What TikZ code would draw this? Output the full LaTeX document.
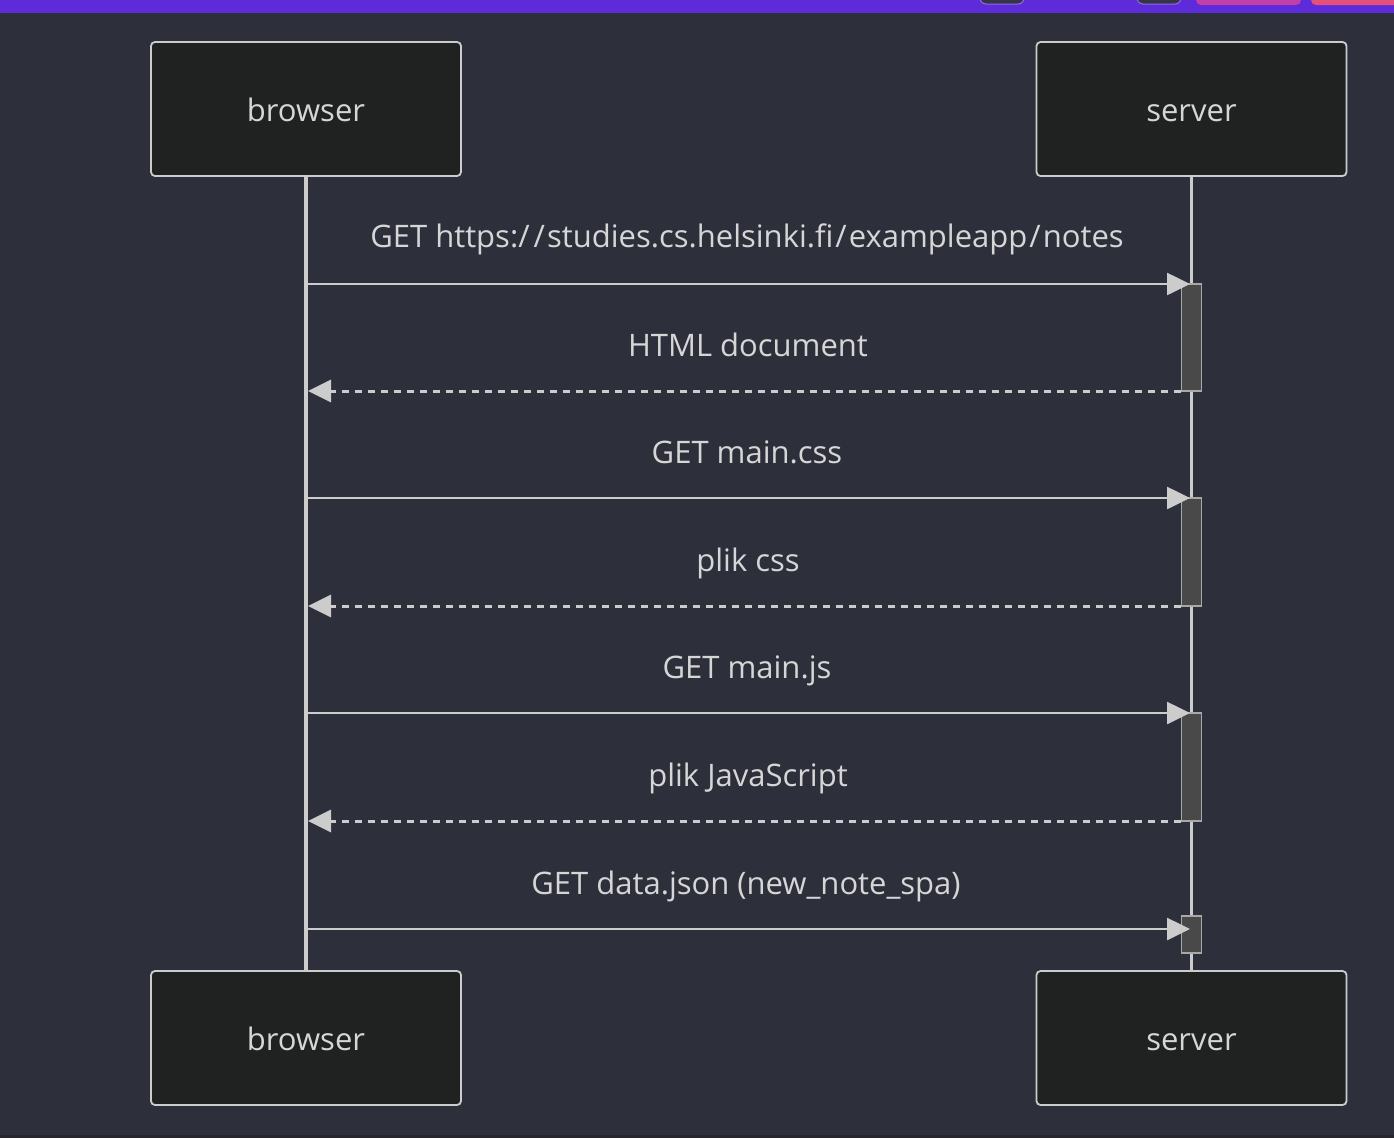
\documentclass[tikz,border=0pt]{standalone}
\usepackage{fontspec}
\setmainfont[Ligatures={NoCommon}]{Open Sans}
\usetikzlibrary{arrows.meta}
\definecolor{bgc}{HTML}{2D303B}
\definecolor{barc}{HTML}{5E2BDB}
\definecolor{boxfill}{HTML}{202221}
\definecolor{linec}{HTML}{CCCCCC}
\definecolor{textc}{HTML}{D6D6D6}
\definecolor{actfill}{HTML}{484948}
\definecolor{actline}{HTML}{A8A8A8}
\definecolor{tabfill}{HTML}{36344A}
\definecolor{tabline}{HTML}{8C6EDC}
\definecolor{pinkc}{HTML}{C13FA8}
\definecolor{redc}{HTML}{E5507A}
\definecolor{bottomc}{HTML}{26282F}
\tikzset{
  actor/.style={draw=linec, fill=boxfill, line width=1.8pt, rounded corners=4pt,
    minimum width=310pt, minimum height=134pt, inner sep=0pt},
  actortext/.style={text=textc, font=\fontsize{31}{36}\selectfont, anchor=base, inner sep=0pt},
  lifeline/.style={draw=linec, line width=3.2pt},
  act/.style={draw=actline, fill=actfill, line width=1.8pt, minimum width=20pt, inner sep=0pt},
  req/.style={draw=linec, line width=2.6pt, -{Triangle[length=23pt,width=22pt]}},
  resp/.style={draw=linec, line width=3pt, dash pattern=on 7pt off 6pt, -{Triangle[length=23pt,width=22pt]}},
  msglabel/.style={text=textc, font=\fontsize{31}{36}\selectfont, anchor=base, inner sep=0pt},
}
\begin{document}
\begin{tikzpicture}[x=1pt,y=-1pt]
\fill[bgc] (0,0) rectangle (1394,1138);
\useasboundingbox (0,0) rectangle (1394,1138);
\fill[barc] (0,0) rectangle (1394,13);
\filldraw[fill=tabfill,draw=tabline,line width=1pt,rounded corners=6pt] (980,-10) rectangle (1024,4);
\filldraw[fill=tabfill,draw=tabline,line width=1pt,rounded corners=6pt] (1137,-10) rectangle (1181,4);
\fill[pinkc,rounded corners=5pt] (1196,-10) rectangle (1301,5);
\fill[redc,rounded corners=5pt] (1311,-10) rectangle (1400,5);
\fill[bottomc] (0,1135) rectangle (1394,1138);

% actors and lifelines
\node[actor] (bTop) at (306,109) {};
\node[actor] (sTop) at (1191.5,109) {};
\node[actor] (bBot) at (306,1038) {};
\node[actor] (sBot) at (1191.5,1038) {};
\draw[lifeline] (bTop.south) -- (bBot.north);
\draw[lifeline] (sTop.south) -- (sBot.north);
\node[actortext] (bTopT) at (306,121) {browser};
\node[actortext] (sTopT) at (1191.5,121) {server};
\node[actortext] (bBotT) at (306,1050) {browser};
\node[actortext] (sBotT) at (1191.5,1050) {server};

% activations
\node[act, minimum height=107pt] (a1) at (1191.5,337.5) {};
\node[act, minimum height=108pt] (a2) at (1191.5,552) {};
\node[act, minimum height=108pt] (a3) at (1191.5,767) {};
\node[act, minimum height=37pt] (a4) at (1191.5,934.5) {};

% message endpoints
\coordinate (b1) at (306,284);   \coordinate (s1) at (1190,284);
\coordinate (s2) at (1181,391);  \coordinate (b2) at (308,391);
\coordinate (b3) at (306,498);   \coordinate (s3) at (1190,498);
\coordinate (s4) at (1181,606);  \coordinate (b4) at (308,606);
\coordinate (b5) at (306,713);   \coordinate (s5) at (1190,713);
\coordinate (s6) at (1181,821);  \coordinate (b6) at (308,821);
\coordinate (b7) at (306,929);   \coordinate (s7) at (1190,929);

\draw[req] (b1) -- (s1);
\draw[resp] (s2) -- (b2);
\draw[req] (b3) -- (s3);
\draw[resp] (s4) -- (b4);
\draw[req] (b5) -- (s5);
\draw[resp] (s6) -- (b6);
\draw[req] (b7) -- (s7);

\node[msglabel] (l1) at (747,247) {GET https:/\kern4pt/\kern2pt studies.cs.helsinki.fi\kern2pt/\kern2pt exampleapp\kern2pt/\kern2pt notes};
\node[msglabel] (l2) at (748,356) {HTML document};
\node[msglabel] (l3) at (747,463) {GET main.css};
\node[msglabel] (l4) at (748,571) {plik css};
\node[msglabel] (l5) at (747,678) {GET main.js};
\node[msglabel] (l6) at (748,786) {plik JavaScript};
\node[msglabel] (l7) at (746,894) {GET data.json (new\_note\_spa)};
\end{tikzpicture}
\end{document}
